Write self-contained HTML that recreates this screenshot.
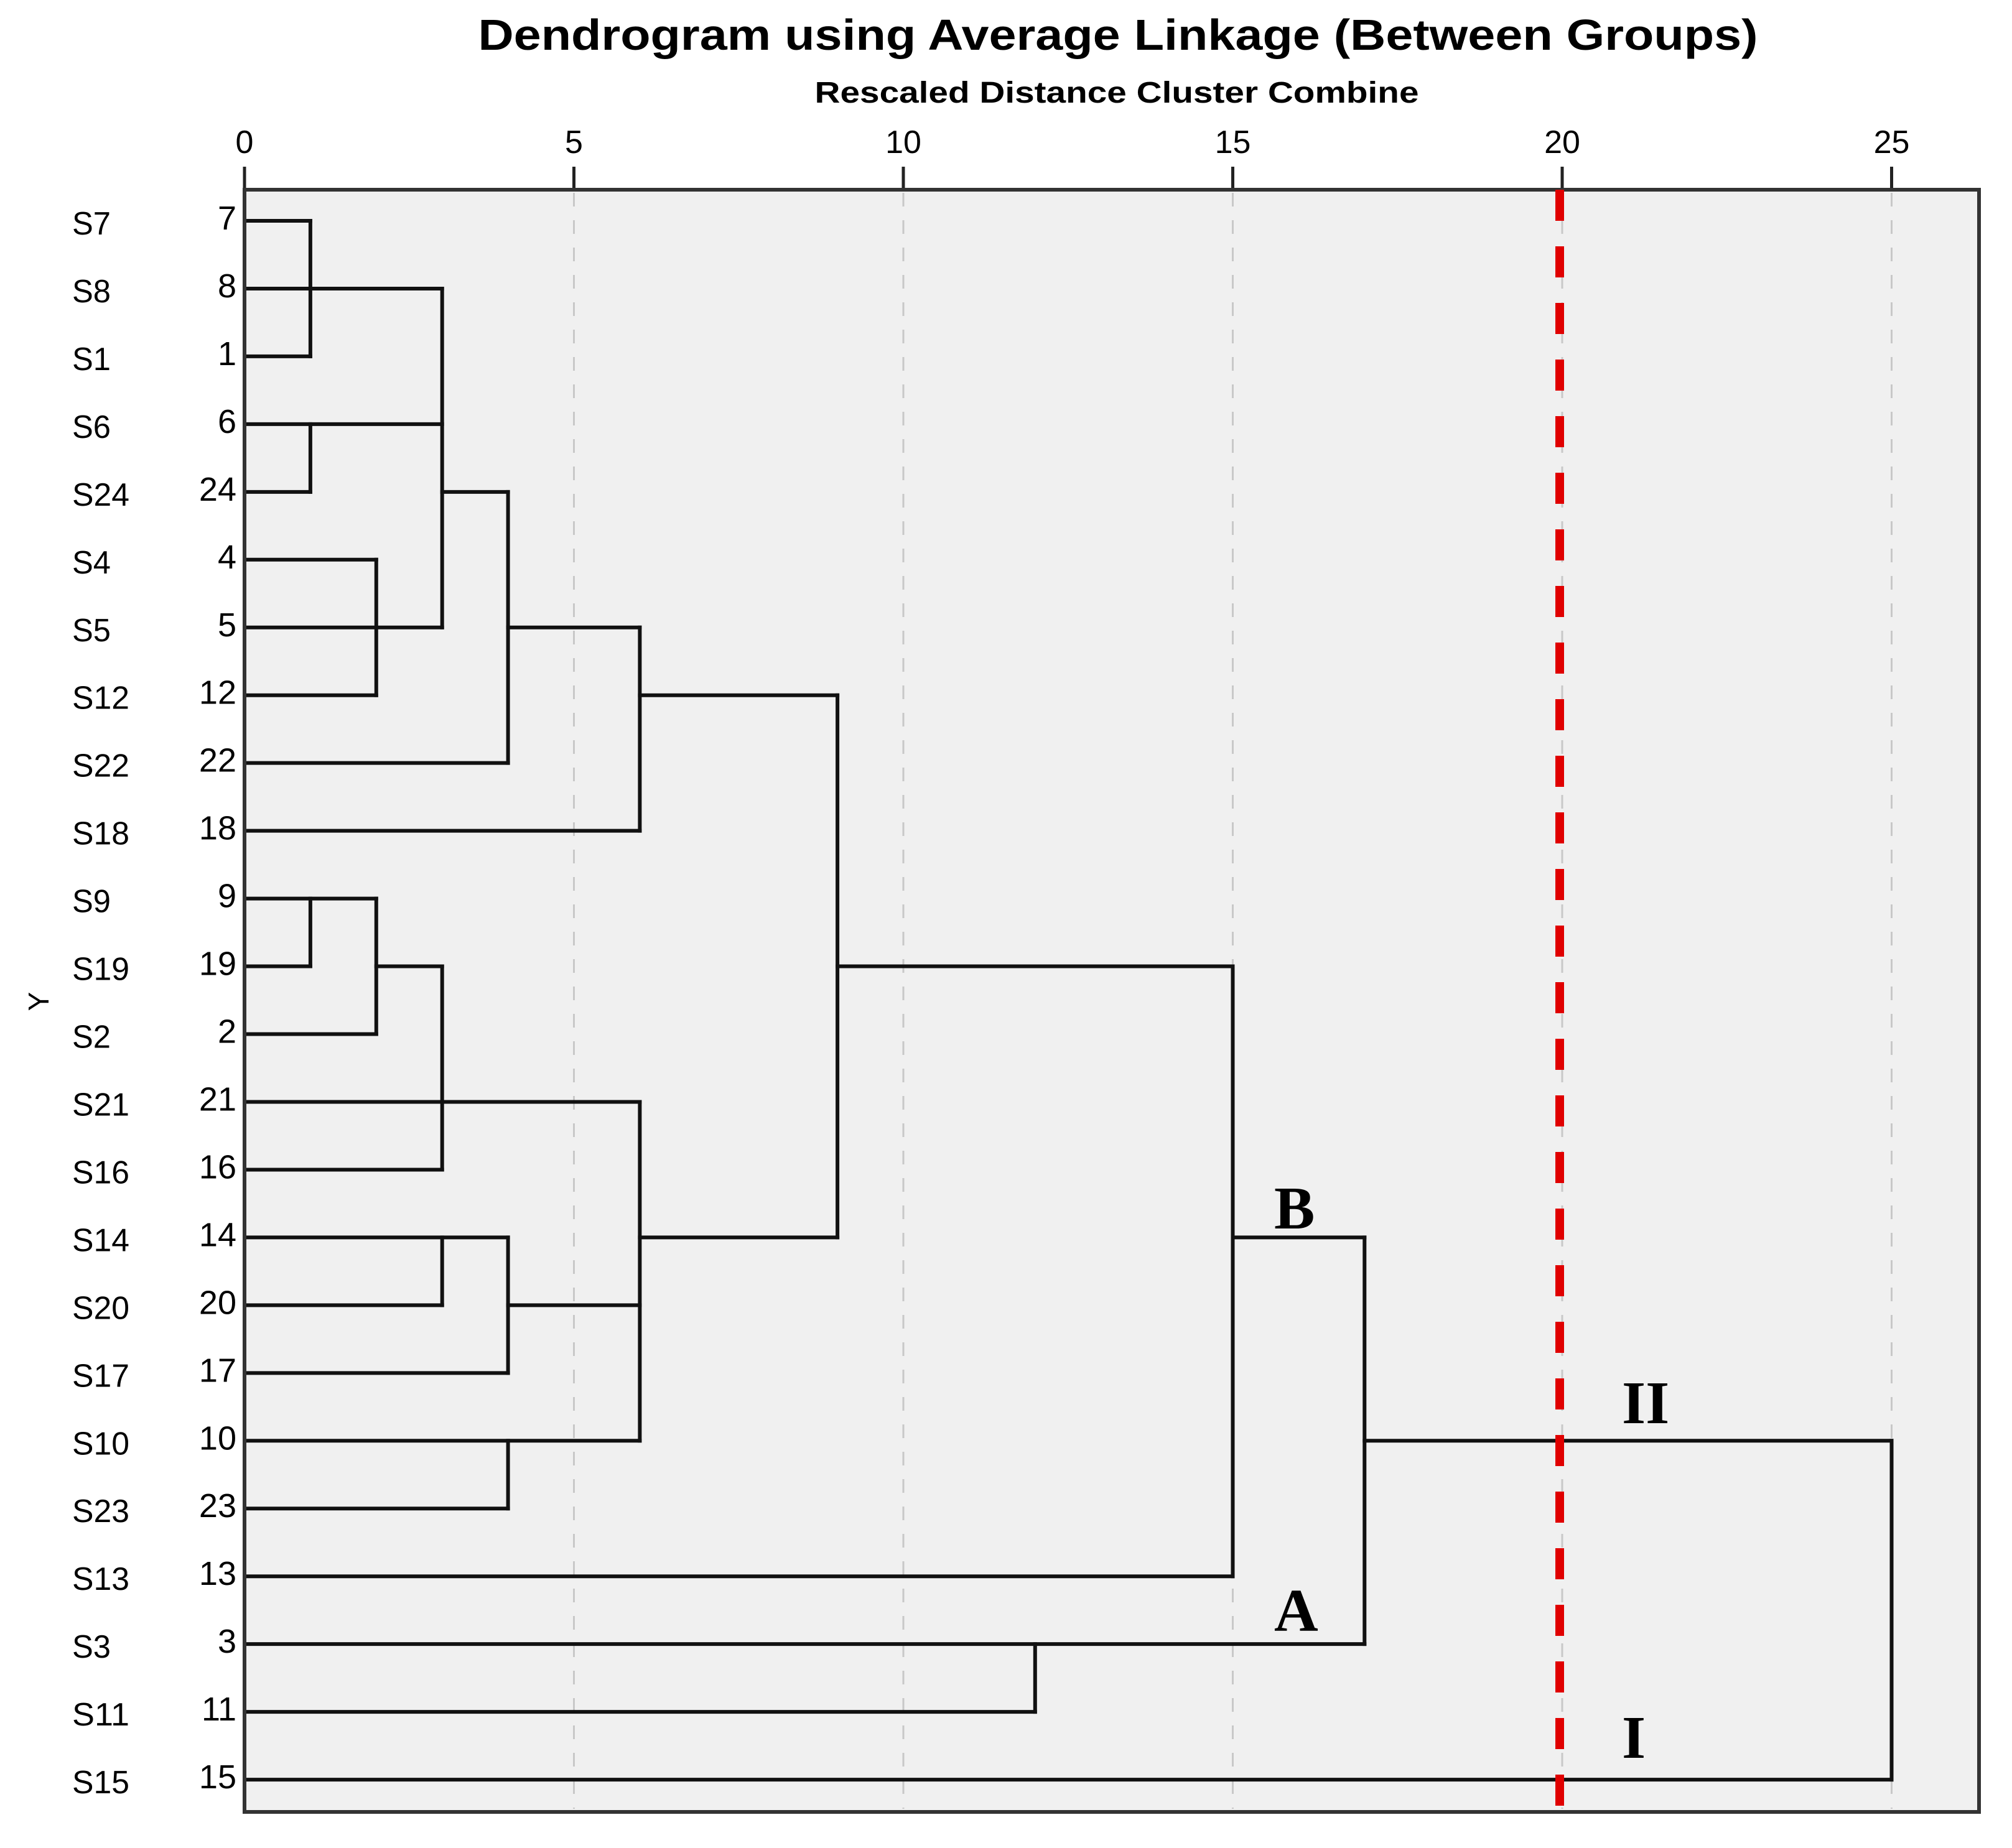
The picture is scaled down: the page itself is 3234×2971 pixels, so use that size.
<!DOCTYPE html>
<html><head><meta charset="utf-8"><style>
html,body{margin:0;padding:0;background:#fff}
svg{display:block}
</style></head><body>
<svg id="chart" width="3234" height="2971" viewBox="0 0 3234 2971" xmlns="http://www.w3.org/2000/svg" font-family="Liberation Sans, Arial, sans-serif">
<rect width="3234" height="2971" fill="#fff"/>
<text x="1797" y="80" text-anchor="middle" font-size="70" font-weight="bold" textLength="2057" lengthAdjust="spacingAndGlyphs">Dendrogram using Average Linkage (Between Groups)</text>
<text x="1795" y="165" text-anchor="middle" font-size="48" font-weight="bold" textLength="971" lengthAdjust="spacingAndGlyphs">Rescaled Distance Cluster Combine</text>
<text transform="translate(78,1610) rotate(-90)" text-anchor="middle" font-size="46">Y</text>
<rect x="393" y="305" width="2788" height="2608" fill="#f0f0f0"/>
<g id="grid"></g>
<g id="ticks"></g>
<g id="labels"></g>
<g id="tree"></g>
<rect x="393" y="305" width="2788" height="2608" fill="none" stroke="#333" stroke-width="6"/>
<line x1="2507" y1="305" x2="2507" y2="2925" stroke="#e00000" stroke-width="14" stroke-dasharray="50 41"/>
<g font-family="Liberation Serif, Times New Roman, serif" font-weight="bold" font-size="98">
<text x="2048" y="1975">B</text>
<text x="2048" y="2622">A</text>
<text x="2607" y="2288">II</text>
<text x="2607" y="2826">I</text>
</g>
</svg>
<script>
const leafIds = [7,8,1,6,24,4,5,12,22,18,9,19,2,21,16,14,20,17,10,23,13,3,11,15];
const xTicks = [0,5,10,15,20,25];
// horizontal segments: row, start distance, end distance
const hRows = [0,1,2,3,4,5,6,7,8,9,10,11,12,13,14,15,16,17,18,19,20,21,22,23, 11,4,6,7,11,15,18,16,15];
const hFrom = [0,0,0,0,0,0,0,0,0,0,0,0,0,0,0,0,0,0,0,0,0,0,0,0, 2,3,4,6,9,15,17,4,6];
const hTo   = [1,3,1,3,1,2,3,2,4,6,2,1,2,6,3,4,3,4,6,4,15,17,12,25, 3,4,6,9,15,17,25,6,9];
// vertical segments: distance, top row, bottom row
const vDist = [1,1,2,3,4,6,9,15,17,25,12,1,2,3,3,4,4,6];
const vTop  = [0,3,5,1,4,6,7,11,15,18,21,10,10,11,15,15,18,13];
const vBot  = [2,4,7,6,8,9,15,20,21,23,22,11,12,14,16,17,19,18];

const NS='http://www.w3.org/2000/svg';
const X0=393, UNIT=105.9, Y0=355, ROW=108.96;
const xs=d=>X0+d*UNIT, ys=r=>Y0+r*ROW;
function mk(tag,attrs,parent){const e=document.createElementNS(NS,tag);for(const k in attrs)e.setAttribute(k,attrs[k]);document.getElementById(parent).appendChild(e);return e;}

xTicks.forEach(t=>{
  if(t>0){
    const g=mk('line',{x1:xs(t),x2:xs(t),y1:310,y2:2908,stroke:'#c8c8c8','stroke-width':3,'stroke-dasharray':'22 22'},'grid');
    
    
  }
  const tk=mk('line',{x1:xs(t),x2:xs(t),y1:268,y2:305,stroke:'#222','stroke-width':5},'ticks');
  
  
  const tl=mk('text',{x:xs(t),y:246,'text-anchor':'middle','font-size':52},'ticks');
  tl.textContent=t;
  
  
});

leafIds.forEach((id,i)=>{
  const n=mk('text',{x:116,y:ys(i)+22,'font-size':52,textLength:String(id).length>1?92:62,lengthAdjust:'spacingAndGlyphs'},'labels');
  n.textContent='S'+id;
  
  
  const c=mk('text',{x:380,y:ys(i)+14,'text-anchor':'end','font-size':54},'labels');
  c.textContent=id;
  
  
});

hRows.forEach((r,i)=>{
  const l=mk('line',{x1:xs(hFrom[i]),x2:xs(hTo[i]),y1:ys(r),y2:ys(r),stroke:'#111','stroke-width':6,'stroke-linecap':'square'},'tree');
  
  
});
vDist.forEach((d,i)=>{
  const l=mk('line',{x1:xs(d),x2:xs(d),y1:ys(vTop[i]),y2:ys(vBot[i]),stroke:'#111','stroke-width':6,'stroke-linecap':'square'},'tree');
  
  
});
</script>
</body></html>
